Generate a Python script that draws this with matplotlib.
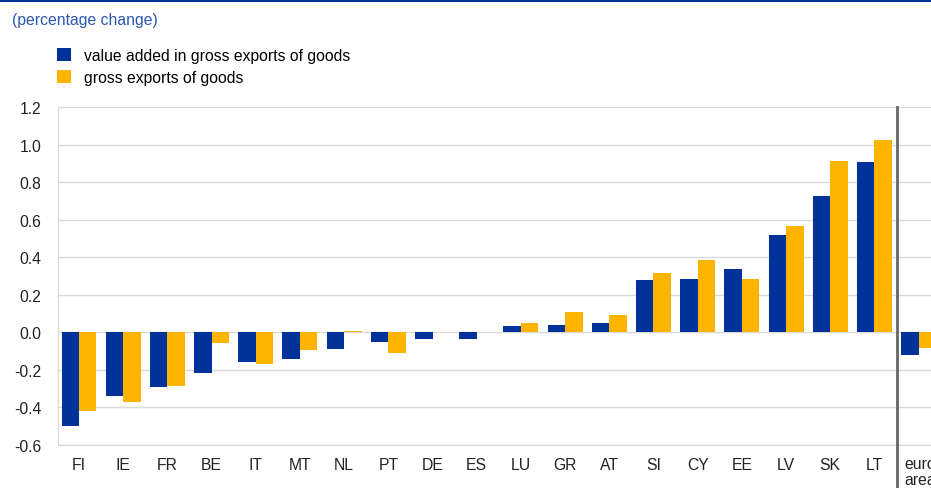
import matplotlib
matplotlib.use("Agg")
import matplotlib.pyplot as plt
import matplotlib.transforms as mtransforms
import numpy as np

plt.rcParams['font.family'] = ['Liberation Sans', 'DejaVu Sans']

categories = ["FI", "IE", "FR", "BE", "IT", "MT", "NL", "PT", "DE", "ES",
              "LU", "GR", "AT", "SI", "CY", "EE", "LV", "SK", "LT", "euro\narea"]
value_added = [-0.50, -0.338, -0.29, -0.215, -0.158, -0.143, -0.089, -0.052, -0.035, -0.035,
               0.035, 0.037, 0.051, 0.279, 0.284, 0.338, 0.517, 0.725, 0.908, -0.121]
gross_exports = [-0.42, -0.37, -0.286, -0.055, -0.167, -0.094, 0.005, -0.112, 0.0, 0.0,
                 0.05, 0.108, 0.094, 0.315, 0.387, 0.284, 0.567, 0.913, 1.024, -0.082]
series_names = ["value added in gross exports of goods", "gross exports of goods"]
yticks = [-0.6, -0.4, -0.2, 0.0, 0.2, 0.4, 0.6, 0.8, 1.0, 1.2]

BLUE = "#003299"
YELLOW = "#FFB400"
FS = 11.3

fig = plt.figure(figsize=(9.31, 4.89), dpi=100)
ax = fig.add_axes([58/931, 43/489, 1 - 58/931, (446-108)/489])

x = np.arange(len(categories))
w = 0.395
ax.bar(x - w/2, value_added, width=w, color=BLUE, zorder=3, label=series_names[0])
ax.bar(x + w/2, gross_exports, width=w, color=YELLOW, zorder=3, label=series_names[1])

ax.set_xlim(-0.475, 19.28)
ax.set_ylim(-0.6, 1.2)
ax.set_yticks(yticks)
ax.set_yticklabels([f"{v:.1f}" for v in yticks])
ax.set_xticks(x)
ax.set_xticklabels([c if not c.startswith("euro") else "" for c in categories])
ax.grid(axis='y', color="#d9d9d9", linewidth=1, zorder=0)
ax.tick_params(axis='both', length=0, labelsize=FS, colors="#222222")
ax.tick_params(axis='y', pad=12)
ax.tick_params(axis='x', pad=9)
for s in ["top", "right"]:
    ax.spines[s].set_visible(False)
ax.spines["left"].set_color("#d9d9d9")
ax.spines["bottom"].set_color("#d9d9d9")

# euro area label (last category), left-aligned just right of the divider
trans = mtransforms.blended_transform_factory(ax.transData, fig.transFigure)
ax.text(18.67, 1 - 457/489, categories[-1], transform=trans, ha='left', va='top',
        fontsize=FS, color="#222222", linespacing=1.05, clip_on=False)

# divider before euro area
ax.axvline(18.5, ymin=-0.13, ymax=1.0, color="#666666", linewidth=2, zorder=4, clip_on=False)

# top rule and subtitle
fig.add_artist(plt.Line2D([0, 1], [1 - 1.5/489, 1 - 1.5/489], color=BLUE, linewidth=1.5))
fig.text(12/931, 1 - 21/489, "(percentage change)", color="#2a57b0", fontsize=FS, va='center')

ax.legend(loc='upper left', bbox_to_anchor=(57/931, 1 - 49/489), bbox_transform=fig.transFigure,
          frameon=False, fontsize=FS, handlelength=0.9, handleheight=0.9, handletextpad=0.8,
          labelspacing=0.45, borderpad=0, borderaxespad=0)

fig.savefig("out.png", dpi=100)
